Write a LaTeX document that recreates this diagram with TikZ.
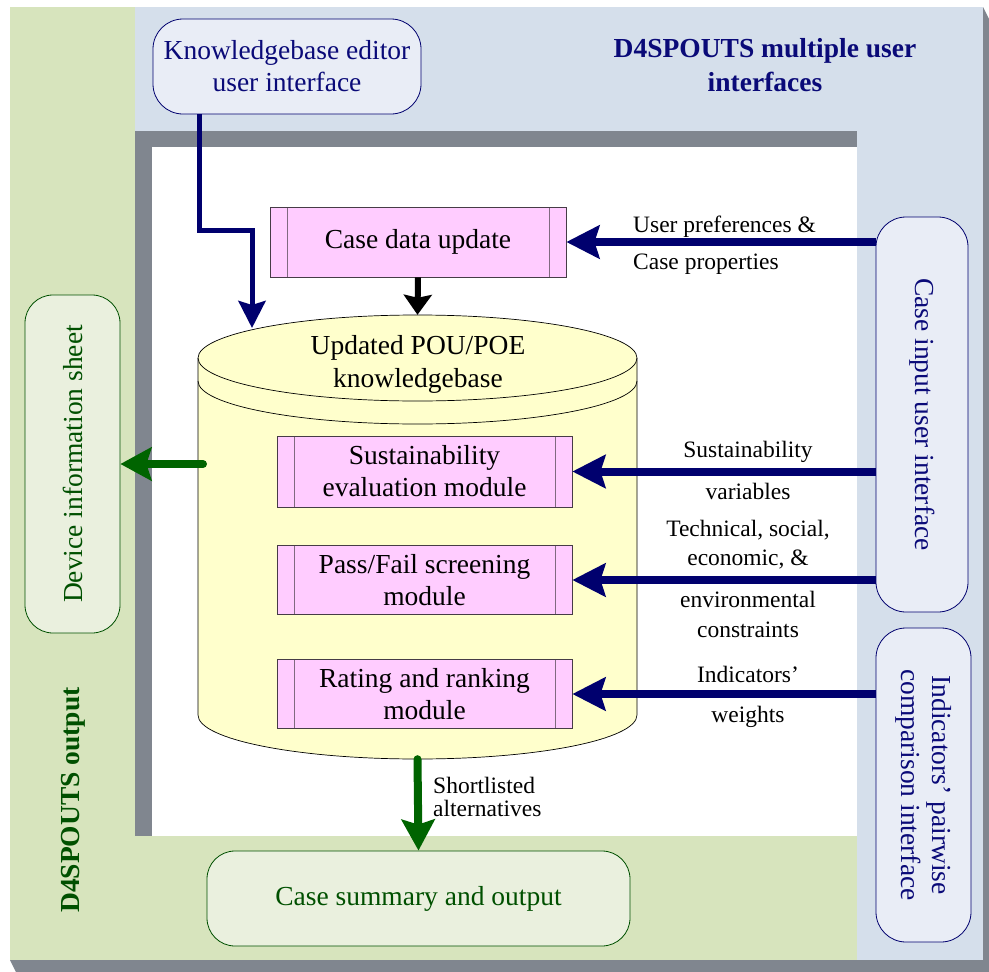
\documentclass[tikz,border=0pt]{standalone}
\usepackage{fontspec}
\setmainfont{Liberation Serif}
\usetikzlibrary{arrows.meta,calc}
\definecolor{greenbg}{RGB}{215,228,189}
\definecolor{bluebg}{RGB}{213,223,235}
\definecolor{shadowgray}{RGB}{128,134,143}
\definecolor{boxblue}{RGB}{233,237,246}
\definecolor{boxgreen}{RGB}{234,240,222}
\definecolor{navy}{RGB}{0,0,110}
\definecolor{navytxt}{RGB}{10,10,120}
\definecolor{dkgreen}{RGB}{0,100,0}
\definecolor{dkgreentxt}{RGB}{0,80,0}
\definecolor{pinkfill}{RGB}{255,204,255}
\definecolor{cylfill}{RGB}{255,255,204}
\definecolor{modborder}{RGB}{70,60,70}
\definecolor{modinner}{RGB}{128,106,128}
\begin{document}
\begin{tikzpicture}[x=1pt,y=-1pt,
  bigfont/.style={font=\fontsize{27.5}{32}\selectfont},
  smallfont/.style={font=\fontsize{23.5}{27}\selectfont},
  bluebox/.style={draw=navy, line width=0.8pt, fill=boxblue, rounded corners=30pt, inner sep=0pt, text=navytxt, align=center, bigfont},
  greenbox/.style={draw=dkgreentxt, line width=0.8pt, fill=boxgreen, rounded corners=28pt, inner sep=0pt, text=dkgreentxt, align=center, bigfont},
  module/.style={draw=modborder, line width=0.8pt, fill=pinkfill, inner sep=0pt, align=center, bigfont,
    path picture={
      \draw[modinner, line width=0.8pt] ([xshift=17pt]path picture bounding box.south west) -- ([xshift=17pt]path picture bounding box.north west);
      \draw[modinner, line width=0.8pt] ([xshift=-17pt]path picture bounding box.south east) -- ([xshift=-17pt]path picture bounding box.north east);
    }},
  navyarr/.style={draw=navy, line width=8pt, -{Stealth[length=33pt,width=33pt,inset=5pt]}},
  kbarr/.style={draw=navy, line width=5pt, -{Stealth[length=27pt,width=27pt,inset=4pt]}},
  blackarr/.style={draw=black, line width=6pt, -{Stealth[length=20pt,width=28pt,inset=3pt]}},
  greenarr/.style={draw=dkgreen, line width=8pt, line cap=round, -{Stealth[length=31pt,width=33pt,inset=5pt]}},
  lbl/.style={smallfont, text=black, inner sep=0pt}
]
\useasboundingbox (0,0) rectangle (989,972);
% backgrounds
\fill[shadowgray] (983,7) -- (989,19) -- (989,972) -- (16,972) -- (10,960) -- cycle;
\fill[greenbg] (10,7) rectangle (983,960);
\fill[bluebg] (135,7) rectangle (983,131);
\fill[bluebg] (857,7) rectangle (983,960);
\fill[shadowgray] (135,131) rectangle (857,836);
\fill[white] (152,147) rectangle (857,836);

% title texts
\node[bigfont, text=navytxt, align=center, font=\fontsize{27.5}{34}\selectfont\bfseries] (title) at (765,65) {D4SPOUTS multiple user\\interfaces};
\node[rotate=90, text=dkgreentxt, font=\fontsize{27.5}{32}\selectfont\bfseries] (outtitle) at (73,800) {D4SPOUTS output};

% cylinder
\fill[cylfill, draw=black, line width=0.7pt] (198,358) -- (198,715)
  arc[start angle=180, end angle=360, x radius=219.5pt, y radius=44pt] -- (637,358)
  arc[start angle=0, end angle=180, x radius=219.5pt, y radius=43pt] -- cycle;
\draw[black, line width=0.7pt] (198,358) arc[start angle=180, end angle=360, x radius=219.5pt, y radius=43pt];
\draw[black, line width=0.7pt] (198,381) arc[start angle=180, end angle=360, x radius=219.5pt, y radius=43pt];
\node[minimum width=439pt, minimum height=444pt, inner sep=0pt] (kb) at (417.5,537) {};
\node[bigfont, align=center, font=\fontsize{27.5}{33}\selectfont] (kbtxt) at (418,364) {Updated POU/POE\\knowledgebase};
\coordinate (kbin) at (252,328);
\coordinate (kbleft) at (203,464);

% boxes
\node[bluebox, minimum width=268pt, minimum height=95pt] (kbe) at (287,66.5) {Knowledgebase editor\\user interface};
\node[module, minimum width=296pt, minimum height=70pt] (cdu) at (418,242) {Case data update};
\node[module, minimum width=295pt, minimum height=71pt] (m1) at (424.5,471.5) {Sustainability\\evaluation module};
\node[module, minimum width=295pt, minimum height=69pt] (m2) at (424.5,580) {Pass/Fail screening\\module};
\node[module, minimum width=295pt, minimum height=69pt] (m3) at (424.5,694) {Rating and ranking\\module};

\node[bluebox, minimum width=92pt, minimum height=395pt] (ci) at (922,414.5) {};
\node[rotate=-90, bigfont, text=navytxt] (citxt) at (ci.center) {Case input user interface};
\node[bluebox, minimum width=95pt, minimum height=314pt] (ind) at (923.5,785) {};
\node[rotate=-90, bigfont, text=navytxt, align=center, font=\fontsize{27.5}{31}\selectfont] (indtxt) at (ind.center) {Indicators' pairwise\\comparison interface};

\node[greenbox, minimum width=95pt, minimum height=338pt] (dev) at (72.5,464) {};
\node[rotate=90, bigfont, text=dkgreentxt] (devtxt) at (dev.center) {Device information sheet};
\node[greenbox, minimum width=423pt, minimum height=95pt] (cs) at (418.5,898.5) {Case summary and output};

% connectors
\draw[kbarr] ([xshift=-88pt]kbe.south) -- ++(0,116) -| (kbin);
\draw[blackarr] (cdu.south) -- (kb.north);
\draw[navyarr] (ci.west |- cdu.east) -- (cdu.east);
\draw[navyarr] (ci.west |- m1.east) -- (m1.east);
\draw[navyarr] (ci.west |- m2.east) -- (m2.east);
\draw[navyarr] (ind.west |- m3.east) -- (m3.east);
\draw[greenarr] (kbleft) -- (dev.east);
\draw[greenarr] (kb.south) -- (cs.north);

% labels
\node[lbl, anchor=base west] (l1a) at (633,232) {User preferences \&};
\node[lbl, anchor=base west] (l1b) at (633,269) {Case properties};
\node[lbl, anchor=base] (l2a) at (748,457) {Sustainability};
\node[lbl, anchor=base] (l2b) at (748,499) {variables};
\node[lbl, anchor=base] (l3a) at (748,536) {Technical, social,};
\node[lbl, anchor=base] (l3b) at (748,565) {economic, \&};
\node[lbl, anchor=base] (l3c) at (748,607) {environmental};
\node[lbl, anchor=base] (l3d) at (748,637) {constraints};
\node[lbl, anchor=base] (l4a) at (748,682) {Indicators'};
\node[lbl, anchor=base] (l4b) at (748,722) {weights};
\node[lbl, anchor=base west] (l5a) at (433,793) {Shortlisted};
\node[lbl, anchor=base west] (l5b) at (433,816) {alternatives};
\end{tikzpicture}
\end{document}
